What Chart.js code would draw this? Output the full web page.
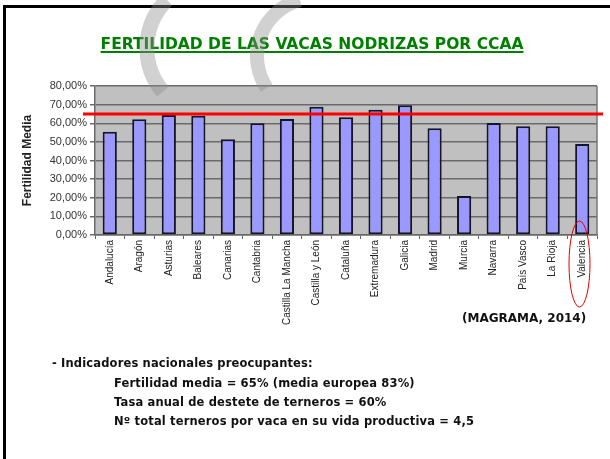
<!DOCTYPE html>
<html>
<head>
<meta charset="utf-8">
<script src="https://cdn.jsdelivr.net/npm/chart.js@4.4.0/dist/chart.umd.min.js"></script>
<style>
  html, body { margin: 0; padding: 0; background: #fff; }
  body { width: 610px; height: 459px; position: relative; overflow: hidden;
         font-family: "DejaVu Sans", Verdana, sans-serif; font-weight: bold; color: #111; }
  #marco { position: absolute; left: 3px; top: 5px; width: 640px; height: 480px;
           border-top: 3px solid #000; border-left: 3px solid #000; }
  #grafico { position: absolute; left: 0; top: 0; }
  .txt { position: absolute; white-space: nowrap; }
  #titulo { left: 0; width: 624px; top: 37px; text-align: center; font-size: 15.5px; line-height: 15px;
            color: #008000; text-decoration: underline; text-decoration-thickness: 2px; text-underline-offset: 2px; }
  #fuente { left: 462px; top: 312px; font-size: 12px; line-height: 12px; }
  .ind { font-size: 11.5px; line-height: 11px; letter-spacing: 0.15px; }
  #capa { position: absolute; left: 0; top: 0; pointer-events: none; }
</style>
</head>
<body>
<div id="marco"></div>
<canvas id="grafico" width="610" height="459"></canvas>
<div class="txt" id="titulo">FERTILIDAD DE LAS VACAS NODRIZAS POR CCAA</div>
<div class="txt" id="fuente">(MAGRAMA, 2014)</div>
<div class="txt ind" style="left:52px;top:358px">- Indicadores nacionales preocupantes:</div>
<div class="txt ind" style="left:114px;top:378px">Fertilidad media = 65% (media europea 83%)</div>
<div class="txt ind" style="left:114px;top:397px">Tasa anual de destete de terneros = 60%</div>
<div class="txt ind" style="left:114px;top:416px">Nº total terneros por vaca en su vida productiva = 4,5</div>
<svg id="capa" width="610" height="459">
  <path d="M166.9,-0.1 A68,68 0 0 0 162.9,91.7" fill="none" stroke="rgba(140,140,140,0.4)" stroke-width="15"/>
  <path d="M299.9,0 A58,58 0 0 0 266.6,88" fill="none" stroke="rgba(140,140,140,0.4)" stroke-width="14"/>
  <ellipse cx="579.5" cy="264" rx="10.5" ry="43" fill="none" stroke="#e00000" stroke-width="1"/>
</svg>
<script>
// fertilidad media de las vacas nodrizas por comunidad autonoma (%)
const regiones = ['Andalucía', 'Aragón', 'Asturias', 'Baleares', 'Canarias', 'Cantabria',
  'Castilla La Mancha', 'Castilla y León', 'Cataluña', 'Extremadura', 'Galicia', 'Madrid',
  'Murcia', 'Navarra', 'País Vasco', 'La Rioja', 'Valencia'];
const fertilidad = [55.5, 62.1, 64.4, 64.0, 51.4, 60.0, 62.3, 68.9, 63.2, 67.3, 69.6, 57.3,
  20.9, 60.1, 58.4, 58.4, 48.9];
const mediaNacional = 65;
const ejeY = { min: 0, max: 80, paso: 10 };

const fondo = {
  id: 'fondo',
  beforeDraw(chart) {
    const a = chart.chartArea, ctx = chart.ctx;
    ctx.save();
    ctx.fillStyle = '#c0c0c0';
    ctx.fillRect(a.left, a.top, a.right - a.left, a.bottom - a.top);
    ctx.restore();
  },
  beforeDatasetsDraw(chart) {
    const a = chart.chartArea, ctx = chart.ctx;
    ctx.save();
    ctx.strokeStyle = '#777';
    ctx.lineWidth = 1.5;
    ctx.beginPath();
    ctx.moveTo(a.right, a.top);
    ctx.lineTo(a.right, a.bottom);
    ctx.stroke();
    ctx.restore();
  }
};

const lineaMedia = {
  id: 'lineaMedia',
  afterDatasetsDraw(chart) {
    const ctx = chart.ctx;
    const y = chart.scales.y.getPixelForValue(mediaNacional);
    ctx.save();
    ctx.strokeStyle = '#ff0000';
    ctx.lineWidth = 3;
    ctx.beginPath();
    ctx.moveTo(83, y);
    ctx.lineTo(603, y);
    ctx.stroke();
    ctx.restore();
  }
};

new Chart(document.getElementById('grafico'), {
  type: 'bar',
  data: {
    labels: regiones,
    datasets: [{
      data: fertilidad,
      backgroundColor: '#9999ff',
      borderColor: '#15152a',
      borderWidth: 2,
      borderSkipped: false,
      barPercentage: 0.48,
      categoryPercentage: 1
    }]
  },
  options: {
    responsive: false,
    animation: false,
    layout: { padding: { left: 0, top: 86, right: 13, bottom: 0 } },
    plugins: { legend: { display: false }, tooltip: { enabled: false } },
    scales: {
      x: {
        grid: { drawOnChartArea: false, drawTicks: true, tickLength: 4, offset: true, color: '#666' },
        border: { color: '#666', width: 1.5 },
        ticks: {
          autoSkip: false, minRotation: 90, maxRotation: 90, padding: 1, color: '#222',
          font: { family: 'Liberation Sans', size: 10 }
        },
        afterFit: s => { s.height = 224; }
      },
      y: {
        min: ejeY.min,
        max: ejeY.max,
        ticks: {
          stepSize: ejeY.paso, padding: 3, color: '#333',
          font: { family: 'Liberation Sans', size: 11 },
          callback: v => v.toFixed(2).replace('.', ',') + '%'
        },
        grid: { color: '#6a6a6a', lineWidth: 1.5, tickLength: 5 },
        border: { color: '#6a6a6a', width: 1.5 },
        title: {
          display: true, text: 'Fertilidad Media', color: '#222',
          font: { family: 'Liberation Sans', size: 12, weight: 'bold' },
          padding: { top: 20, bottom: 0 }
        },
        afterFit: s => { s.width = 95; }
      }
    }
  },
  plugins: [fondo, lineaMedia]
});
</script>
</body>
</html>
